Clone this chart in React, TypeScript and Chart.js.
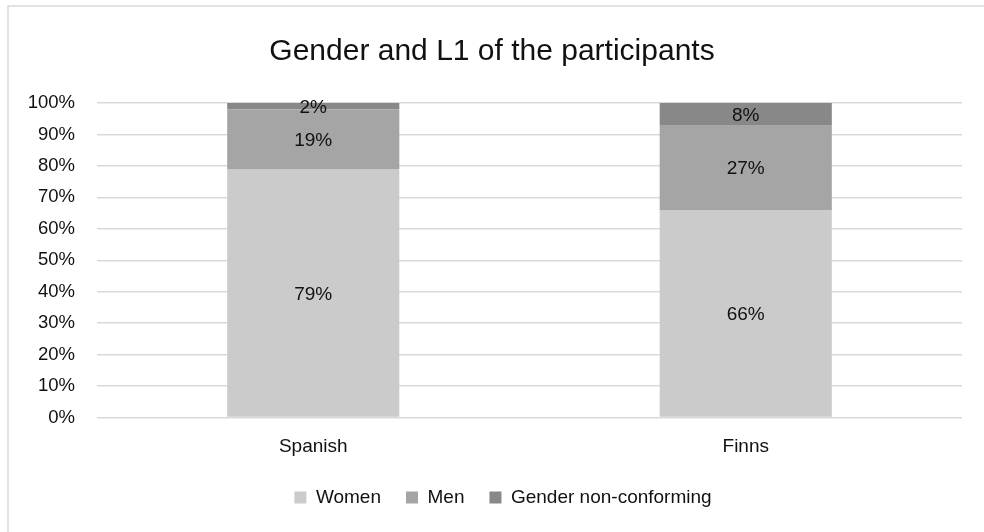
import React, { useEffect, useRef } from "react";
import { Chart, registerables } from "chart.js";

Chart.register(...registerables);

// Groups along the x axis
const groups = ["Spanish", "Finns"];

// Share of participants per group (%)
const women = [79, 66];
const men = [19, 27];
const nonConforming = [2, 8];

const seriesNames = ["Women", "Men", "Gender non-conforming"];
const seriesColors = ["#cbcbcb", "#a5a5a5", "#888888"];

const yTicks = [0, 10, 20, 30, 40, 50, 60, 70, 80, 90, 100];

const FONT = "'Liberation Sans', Arial, sans-serif";
const TEXT = "#111111";

// White page plus the thin frame drawn round the chart
const framePlugin = {
  id: "frame",
  beforeDraw(chart: any) {
    const { ctx, width, height } = chart;
    ctx.save();
    ctx.fillStyle = "#ffffff";
    ctx.fillRect(0, 0, width, height);
    ctx.strokeStyle = "#d9d9d9";
    ctx.lineWidth = 1.5;
    ctx.strokeRect(8, 6, width + 20, height + 20);
    ctx.restore();
  },
};

// Nudge the legend row a little to the right of the title's centre
const legendShift = {
  id: "legendShift",
  afterLayout(chart: any) {
    if (chart.legend) {
      chart.legend.left += 11;
      chart.legend.right += 11;
    }
  },
};

// Percentage written in the middle of every stacked segment
const segmentLabels = {
  id: "segmentLabels",
  afterDatasetsDraw(chart: any) {
    const { ctx, chartArea } = chart;
    ctx.save();
    ctx.font = `19px ${FONT}`;
    ctx.fillStyle = TEXT;
    ctx.textAlign = "center";
    ctx.textBaseline = "middle";
    chart.data.datasets.forEach((ds: any, di: number) => {
      const meta = chart.getDatasetMeta(di);
      meta.data.forEach((bar: any, i: number) => {
        const top = Math.max(bar.y, chartArea.top);
        const bottom = Math.min(bar.base, chartArea.bottom);
        ctx.fillText(`${ds.data[i]}%`, bar.x, (top + bottom) / 2 + 1.5);
      });
    });
    ctx.restore();
  },
};

export default function App() {
  const canvasRef = useRef<HTMLCanvasElement | null>(null);

  useEffect(() => {
    if (!canvasRef.current) return;
    const values = [women, men, nonConforming];
    const chart = new Chart(canvasRef.current, {
      type: "bar",
      data: {
        labels: groups,
        datasets: values.map((data, i) => ({
          label: seriesNames[i],
          data,
          backgroundColor: seriesColors[i],
          borderWidth: 0,
          categoryPercentage: 1,
          barPercentage: 0.398,
        })),
      },
      options: {
        animation: false,
        responsive: false,
        events: [],
        layout: { padding: { left: 22, right: 22, top: 0, bottom: 15 } },
        plugins: {
          title: {
            display: true,
            text: "Gender and L1 of the participants",
            color: TEXT,
            font: { family: FONT, size: 30, weight: "normal", lineHeight: 1.2 },
            padding: { top: 34, bottom: 33 },
          },
          legend: {
            display: true,
            position: "bottom",
            labels: {
              color: TEXT,
              font: { family: FONT, size: 19 },
              boxWidth: 12,
              boxHeight: 12,
              padding: 25,
            },
          },
          tooltip: { enabled: false },
        },
        scales: {
          x: {
            stacked: true,
            grid: { display: false, drawTicks: false },
            border: { display: false },
            ticks: { color: TEXT, font: { family: FONT, size: 19 }, padding: 18 },
            afterFit(scale: any) {
              scale.height = 45.5;
            },
          },
          y: {
            stacked: true,
            min: 0,
            max: 100,
            afterBuildTicks(scale: any) {
              scale.ticks = yTicks.map((v) => ({ value: v }));
            },
            grid: { color: "#d9d9d9", lineWidth: 1.5, drawTicks: false },
            border: { display: false },
            ticks: {
              color: TEXT,
              font: { family: FONT, size: 18.5 },
              padding: 22,
              callback: (v: any) => `${v}%`,
            },
            afterFit(scale: any) {
              scale.width = 75;
            },
          },
        },
      },
      plugins: [framePlugin, legendShift, segmentLabels],
    });
    return () => chart.destroy();
  }, []);

  return (
    <div style={{ position: "fixed", left: 0, top: 0, width: 984, height: 532, background: "#fff" }}>
      <canvas ref={canvasRef} width={984} height={532} />
    </div>
  );
}
